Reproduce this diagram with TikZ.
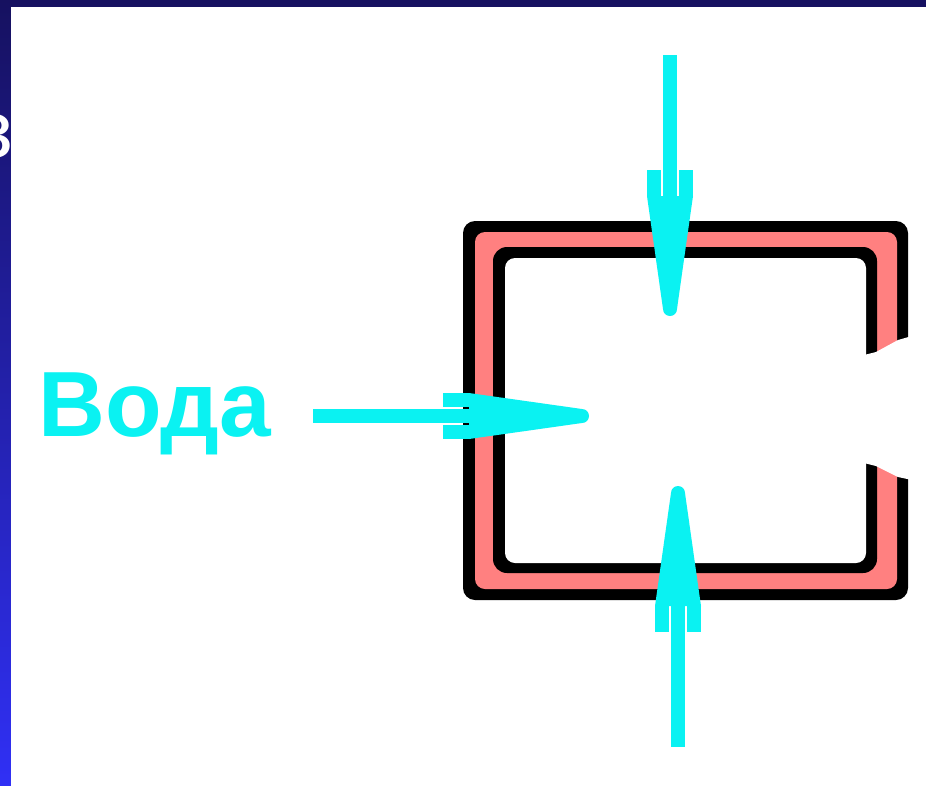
\documentclass[tikz,border=0pt]{standalone}
\usepackage{fontspec}
\setmainfont{Liberation Sans}
\definecolor{aqua}{RGB}{10,242,242}
\definecolor{salmonpink}{RGB}{255,128,128}
\definecolor{navytop}{RGB}{22,17,96}
\definecolor{bluebottom}{RGB}{48,48,245}
\newcommand{\waterarrow}[4]{%
  \begin{scope}[shift={(#1,#2)}, rotate=#3]
    \fill[aqua] (-#4,-7) rectangle (-118,7);
    \fill[aqua] (-147,9) rectangle (-120,23);
    \fill[aqua] (-147,-23) rectangle (-120,-9);
    \fill[aqua] (-121,-23) -- (-121,23) -- (-8,7) arc (90:-90:7) -- cycle;
  \end{scope}}
\begin{document}
\begin{tikzpicture}[x=0.75pt,y=-0.75pt]
  \useasboundingbox (0,0) rectangle (926,786);
  % blue slide background
  \shade[top color=navytop, bottom color=bluebottom] (0,0) rectangle (926,786);
  \node[anchor=base east, inner sep=0pt, text=white, font=\fontsize{60}{70}\selectfont] (ze) at (13,157) {з};
  % white content area
  \fill[white] (11,7) rectangle (926,786);
  % frame
  \fill[black, rounded corners=12*0.75pt] (463,221) rectangle (908,600);
  \fill[salmonpink, rounded corners=10*0.75pt] (475,232) rectangle (897,589);
  \fill[black, rounded corners=14*0.75pt] (493,247) rectangle (877,573);
  \fill[white, rounded corners=10*0.75pt] (505,258) rectangle (866,563);
  % opening on the right
  \fill[white] (860,356) -- (876,352) -- (898,340) -- (912,336) -- (912,480) -- (898,477) -- (876,466) -- (860,462) -- cycle;
  % arrows
  \waterarrow{590}{416}{0}{277}
  \waterarrow{670}{317}{-90}{262}
  \waterarrow{678}{485}{90}{262}
  % label
  \node[anchor=base west, inner sep=0pt, text=aqua, font=\fontsize{69.5}{80}\selectfont\bfseries] (voda) at (38,436) {Вода};
\end{tikzpicture}
\end{document}
